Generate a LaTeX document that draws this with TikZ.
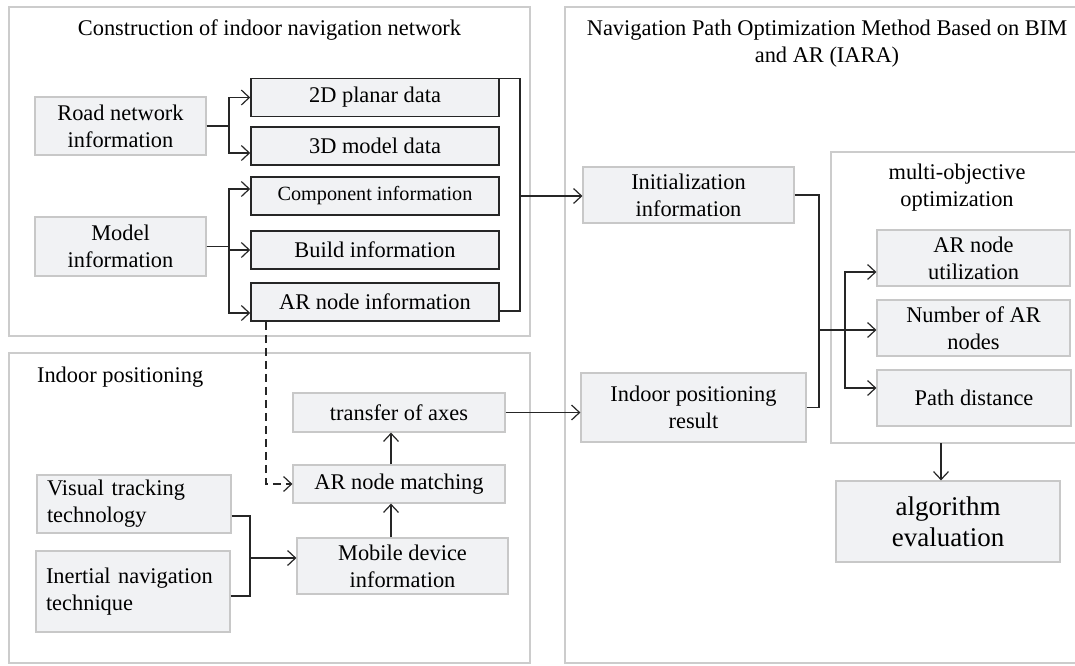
\documentclass[tikz,border=0pt]{standalone}
\usepackage{fontspec}
\setmainfont{Liberation Serif}
\usetikzlibrary{arrows.meta}

\definecolor{panelgray}{HTML}{CCCCCC}
\definecolor{boxline}{HTML}{C8C8C8}
\definecolor{boxgray}{HTML}{F1F2F4}
\definecolor{linedark}{HTML}{262626}

\tikzset{
	panel/.style={draw=panelgray, line width=0.7pt},
	greybox/.style={draw=boxline, fill=boxgray, line width=0.6pt, align=center, inner sep=0pt},
	darkbox/.style={draw=linedark, fill=boxgray, line width=0.8pt, align=center, inner sep=0pt,
		minimum width=124pt, minimum height=19pt},
	conn/.style={draw=linedark, line width=0.6pt},
}

\begin{document}
\begin{tikzpicture}[x=0.5pt, y=-0.5pt,
	>={Straight Barb[length=4pt,width=7.5pt]},
	font=\fontsize{11.2}{13.5}\selectfont]

	\useasboundingbox (0,0) rectangle (1075,665);

	% panels
	\draw[panel] (9,7) rectangle (530,336);
	\draw[panel] (9,353) rectangle (530,663);
	\draw[panel] (1075,7) -| (565,663) -- (1075,663);
	\draw[panel] (1075,152) -| (831,443) -- (1075,443);

	\node (tcons) at (269.5,30) {Construction of indoor navigation network};
	\node[anchor=west] (tpos) at (30,377) {Indoor positioning};
	\node[align=center] (tnav) at (827,43.5)
		{Navigation Path Optimization Method Based on BIM\\and AR (IARA)};
	\node[align=center] (tmulti) at (957,188) {multi-objective\\optimization};

	% construction
	\node[greybox, minimum width=85.5pt, minimum height=29pt] (road) at (120.5,126)
		{Road network\\information};
	\node[greybox, minimum width=85.5pt, minimum height=29.5pt] (model) at (120.5,246.5)
		{Model\\information};
	\foreach \nm/\yy/\txt in {planar/97.5/2D planar data, solid/146/3D model data,
		comp/196/{\fontsize{10.1}{12}\selectfont Component information},
		build/250/Build information, arinfo/302/AR node information}{
		\node[darkbox] (\nm) at (375,\yy) {\txt};
	}

	\coordinate (rfork) at (229,0);
	\draw[conn,->] (road.east) -- (rfork |- road.east) |- (planar.west);
	\draw[conn,->] (road.east) -- (rfork |- road.east) |- ([yshift=-3.5pt]solid.west);
	\foreach \tgt/\sh in {comp/3.5pt, build/0pt, arinfo/-5.5pt}{
		\draw[conn,->] (model.east) -- (rfork |- model.east) |- ([yshift=\sh]\tgt.west);
	}

	\coordinate (bus) at (520,196);
	\draw[conn] ([yshift=-0.5pt]planar.north east) -| (bus) |- ([yshift=-4.5pt]arinfo.east);

	% navigation path
	\node[greybox, minimum width=105.5pt, minimum height=28pt] (init) at (688.5,195)
		{Initialization\\information};
	\node[greybox, minimum width=112.5pt, minimum height=34.5pt] (result) at (693.5,407.5)
		{Indoor positioning\\result};
	\node[greybox, minimum width=96.5pt, minimum height=28pt] (util) at (973.5,258)
		{AR node\\utilization};
	\node[greybox, minimum width=96.5pt, minimum height=28pt] (number) at (973.5,328)
		{Number of AR\\nodes};
	\node[greybox, minimum width=97pt, minimum height=28pt] (dist) at (974,398)
		{Path distance};
	\node[greybox, minimum width=112pt, minimum height=40.5pt,
		font=\fontsize{13.5}{15.5}\selectfont] (evalu) at (948,521.5)
		{algorithm\\evaluation};

	\draw[conn,->] (bus) -- (bus -| init.west);

	\coordinate (joint) at (819,330);
	\coordinate (fork) at (845,330);
	\draw[conn] (init.east) -| (joint);
	\draw[conn] (result.east) -| (joint);
	\draw[conn,->] (joint) -- (joint -| number.west);
	\draw[conn,->] (fork) |- ([yshift=-7pt]util.west);
	\draw[conn,->] (fork) |- ([yshift=5pt]dist.west);

	\coordinate (mbot) at (941,443);
	\draw[conn,->] (mbot) -- (mbot |- evalu.north);

	% indoor positioning
	\node[greybox, minimum width=106pt, minimum height=19.5pt] (transfer) at (399,412.5)
		{transfer of axes};
	\node[greybox, minimum width=106pt, minimum height=19pt] (match) at (399,484)
		{AR node matching};
	\node[greybox, minimum width=105.5pt, minimum height=28pt] (mobile) at (402.5,566)
		{Mobile device\\information};
	\node[greybox, minimum width=97pt, minimum height=29pt, text width=87pt, align=left]
		(visual) at (134,504) {Visual tracking\\technology};
	\node[greybox, minimum width=97pt, minimum height=40.5pt, text width=87pt, align=left]
		(inertial) at (133,591.5) {Inertial navigation\\technique};

	\coordinate (vjoin) at (250,558);
	\draw[conn] ([yshift=-6pt]visual.east) -| (vjoin);
	\draw[conn] ([yshift=-2.25pt]inertial.east) -| (vjoin);
	\draw[conn,->] (vjoin) -- (vjoin -| mobile.west);

	\coordinate (upx) at (391,0);
	\draw[conn,->] (upx |- mobile.north) -- (upx |- match.south);
	\draw[conn,->] (upx |- match.north) -- (upx |- transfer.south);
	\draw[conn,->] (transfer.east) -- (transfer.east -| result.west);

	\coordinate (dsh) at (266,0);
	\draw[conn,dash pattern=on 4pt off 2.5pt,->] (dsh |- arinfo.south) |- (match.west);

\end{tikzpicture}
\end{document}
